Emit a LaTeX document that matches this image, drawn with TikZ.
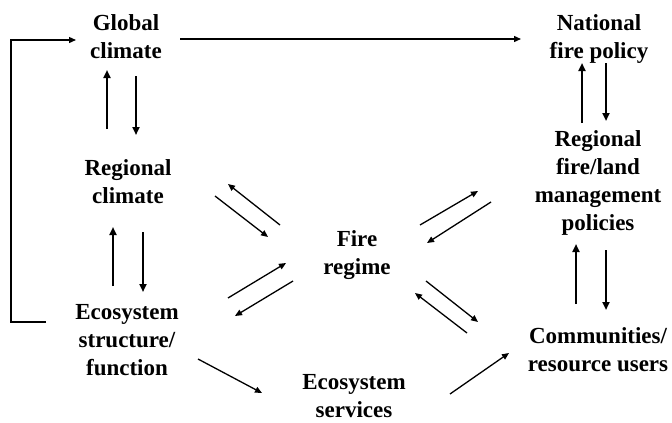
\documentclass[tikz,border=0pt]{standalone}
\usepackage{fontspec}
\setmainfont{Liberation Serif}
\usetikzlibrary{arrows.meta}
\begin{document}
\begin{tikzpicture}[x=1pt,y=-1pt,
  lbl/.style={align=center,font=\fontsize{23}{28}\selectfont\bfseries,inner sep=0pt,anchor=base},
  arr/.style={line width=1.3pt,-{Triangle[length=7pt,width=6pt]}},
  varr/.style={line width=2pt,-{Triangle[length=8pt,width=7pt]}},
  link/.style={line width=1.3pt}]
\useasboundingbox (0,0) rectangle (672,423);
% text nodes (anchor at last line baseline)
\node[lbl] (gc) at (126,58) {Global\\climate};
\node[lbl] (nf) at (599,58) {National\\fire policy};
\node[lbl] (rc) at (128,203) {Regional\\climate};
\node[lbl] (rf) at (598,230) {Regional\\fire/land\\management\\policies};
\node[lbl] (fr) at (357,274) {Fire\\regime};
\node[lbl] (es) at (127,375) {Ecosystem\\structure/\\function};
\node[lbl] (cu) at (598,371) {Communities/\\resource users};
\node[lbl] (sv) at (354,417) {Ecosystem\\services};
% endpoints
\coordinate (t1) at (180,39); \coordinate (t2) at (521,39);
\coordinate (f1) at (46,322); \coordinate (f2) at (11,322);
\coordinate (f3) at (11,40);  \coordinate (f4) at (76,40);
\coordinate (gu1) at (107,129); \coordinate (gu2) at (107,70);
\coordinate (gd1) at (136,76);  \coordinate (gd2) at (136,135);
\coordinate (ru1) at (113,286); \coordinate (ru2) at (113,227);
\coordinate (rd1) at (143,232); \coordinate (rd2) at (143,292);
\coordinate (nu1) at (582,123); \coordinate (nu2) at (582,63);
\coordinate (nd1) at (606,63);  \coordinate (nd2) at (606,121);
\coordinate (cu1) at (576,304); \coordinate (cu2) at (576,244);
\coordinate (cd1) at (606,250); \coordinate (cd2) at (606,310);
\coordinate (a1) at (280,225); \coordinate (a2) at (228,184);
\coordinate (b1) at (215,196); \coordinate (b2) at (268,237);
\coordinate (c1) at (228,298); \coordinate (c2) at (286,263);
\coordinate (d1) at (293,281); \coordinate (d2) at (235,316);
\coordinate (e1) at (420,225); \coordinate (e2) at (478,191);
\coordinate (g1) at (491,202); \coordinate (g2) at (427,243);
\coordinate (h1) at (426,281); \coordinate (h2) at (478,322);
\coordinate (k1) at (467,333); \coordinate (k2) at (415,293);
\coordinate (s1) at (198,359); \coordinate (s2) at (262,393);
\coordinate (s3) at (450,394); \coordinate (s4) at (509,353);
% connectors
\draw[arr] (t1) -- (t2);
\draw[arr] (f1) -- (f2) -- (f3) -- (f4);
\draw[varr] (gu1) -- (gu2);
\draw[varr] (gd1) -- (gd2);
\draw[varr] (ru1) -- (ru2);
\draw[varr] (rd1) -- (rd2);
\draw[varr] (nu1) -- (nu2);
\draw[varr] (nd1) -- (nd2);
\draw[varr] (cu1) -- (cu2);
\draw[varr] (cd1) -- (cd2);
\draw[arr] (a1) -- (a2);
\draw[arr] (b1) -- (b2);
\draw[arr] (c1) -- (c2);
\draw[arr] (d1) -- (d2);
\draw[arr] (e1) -- (e2);
\draw[arr] (g1) -- (g2);
\draw[arr] (h1) -- (h2);
\draw[arr] (k1) -- (k2);
\draw[arr] (s1) -- (s2);
\draw[arr] (s3) -- (s4);
\end{tikzpicture}
\end{document}
